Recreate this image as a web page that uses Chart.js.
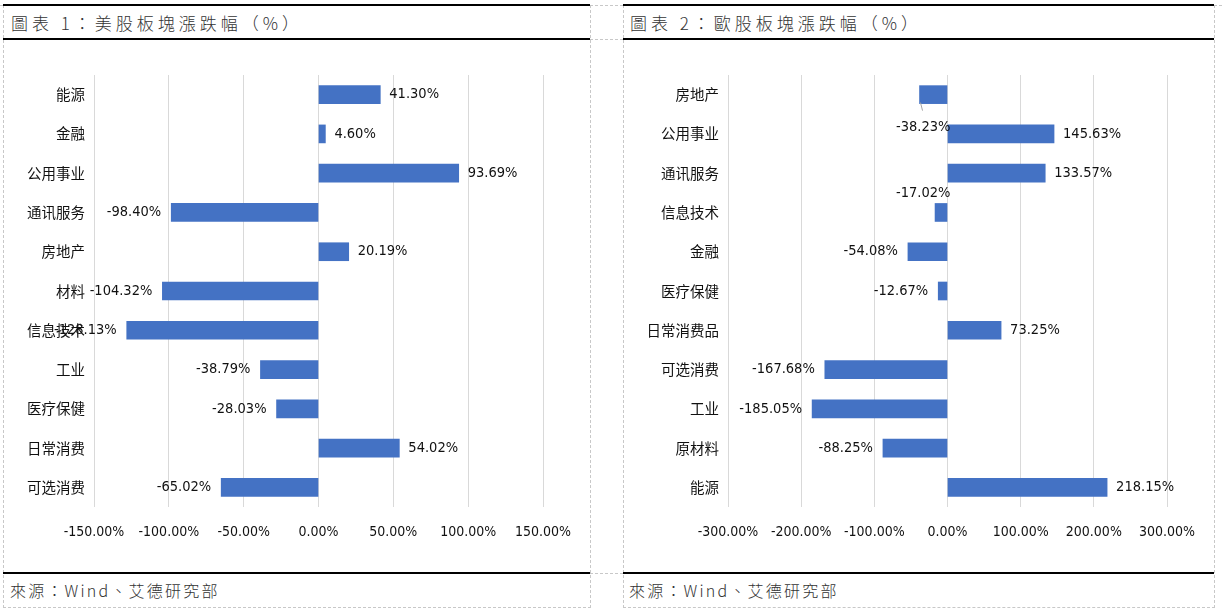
<!DOCTYPE html>
<html>
<head>
<meta charset="utf-8">
<script src="https://cdn.jsdelivr.net/npm/chart.js@4.4.1/dist/chart.umd.min.js"></script>
<style>
  html, body { margin: 0; padding: 0; background: #fff; }
  body { width: 1222px; height: 615px; position: relative; overflow: hidden; }
  .panel { position: absolute; top: 5px; height: 603px; box-sizing: border-box;
           border-left: 1px dashed #c8c8c8; border-right: 1px dashed #c8c8c8; border-bottom: 1px dashed #c8c8c8; }
  .hline { position: absolute; height: 2px; background: #000; }
  .dline { position: absolute; height: 0; border-top: 1px dashed #c8c8c8; }
  .title { position: absolute; font-family: "Noto Sans CJK TC", sans-serif; font-size: 17px; color: #333;
           letter-spacing: 4px; top: 10px; white-space: nowrap; font-weight: 300; }
  .src { position: absolute; font-family: "Noto Sans CJK TC", sans-serif; font-size: 16px; color: #333;
         letter-spacing: 2.2px; top: 578px; white-space: nowrap; font-weight: 300; }
  canvas { position: absolute; }
</style>
</head>
<body>
<div class="panel" style="left:3px; width:588px;"></div>
<div class="panel" style="left:623px; width:592px;"></div>
<div class="dline" style="left:590px; width:33px; top:5px;"></div>
<div class="dline" style="left:590px; width:33px; top:39px;"></div>
<div class="dline" style="left:590px; width:33px; top:573px;"></div>
<div class="dline" style="left:0px; width:3px; top:5px;"></div>
<div class="dline" style="left:1214px; width:8px; top:5px;"></div>

<div class="hline" style="left:3px; width:587px; top:4px;"></div>
<div class="hline" style="left:3px; width:587px; top:38px;"></div>
<div class="hline" style="left:3px; width:587px; top:572px;"></div>
<div class="hline" style="left:623px; width:591px; top:4px;"></div>
<div class="hline" style="left:623px; width:591px; top:38px;"></div>
<div class="hline" style="left:623px; width:591px; top:572px;"></div>

<div class="title" style="left:11px;">圖表 1：美股板塊漲跌幅（%）</div>
<div class="title" style="left:630px;">圖表 2：歐股板塊漲跌幅（%）</div>
<div class="src" style="left:10px;">來源：Wind、艾德研究部</div>
<div class="src" style="left:629px;">來源：Wind、艾德研究部</div>

<canvas id="c1" width="587" height="533" style="left:3px; top:40px; width:587px; height:533px;"></canvas>
<canvas id="c2" width="591" height="533" style="left:623px; top:40px; width:591px; height:533px;"></canvas>

<script>
// ---- Data ----
const usCategories = ["能源", "金融", "公用事业", "通讯服务", "房地产", "材料", "信息技术", "工业", "医疗保健", "日常消费", "可选消费"];
const usValues = [41.30, 4.60, 93.69, -98.40, 20.19, -104.32, -128.13, -38.79, -28.03, 54.02, -65.02];
const usTicks = [-150, -100, -50, 0, 50, 100, 150];

const euCategories = ["房地产", "公用事业", "通讯服务", "信息技术", "金融", "医疗保健", "日常消费品", "可选消费", "工业", "原材料", "能源"];
const euValues = [-38.23, 145.63, 133.57, -17.02, -54.08, -12.67, 73.25, -167.68, -185.05, -88.25, 218.15];
const euTicks = [-300, -200, -100, 0, 100, 200, 300];

// label placement overrides (Excel moved two labels in the European chart)
const euLabelMoves = { "房地产": "below", "信息技术": "above" };

const NUM_FONT = '"DejaVu Sans Condensed", "Liberation Sans Narrow", sans-serif';
const CAT_FONT = '"Noto Sans CJK SC", sans-serif';

function pct(v) { return v.toFixed(2) + "%"; }

const labelPlugin = {
  id: 'valLabels',
  afterDatasetsDraw(chart, args, opts) {
    const ctx = chart.ctx;
    const meta = chart.getDatasetMeta(0);
    const data = chart.data.datasets[0].data;
    const cats = chart.data.labels;
    const moves = opts.moves || {};
    ctx.save();
    ctx.font = '14.5px ' + NUM_FONT;
    ctx.fillStyle = '#111';
    ctx.textBaseline = 'middle';
    meta.data.forEach((bar, i) => {
      const v = data[i];
      const txt = pct(v);
      const mv = moves[cats[i]];
      if (mv === 'below' || mv === 'above') {
        const zeroX = chart.scales.x.getPixelForValue(0);
        const dy = mv === 'below' ? 33 : -19;
        ctx.textAlign = 'right';
        ctx.fillText(txt, zeroX + 3, bar.y + dy);
        if (mv === 'below') {
          ctx.strokeStyle = '#a6a6a6';
          ctx.lineWidth = 1;
          ctx.beginPath();
          ctx.moveTo(bar.x + 1, bar.y + 8);
          ctx.lineTo(bar.x + 3, bar.y + 16);
          ctx.stroke();
        }
      } else if (v >= 0) {
        ctx.textAlign = 'left';
        ctx.fillText(txt, bar.x + 9, bar.y);
      } else {
        ctx.textAlign = 'right';
        ctx.fillText(txt, bar.x - 10, bar.y);
      }
    });
    ctx.restore();
  }
};

function makeChart(id, cats, vals, ticks, yWidth, padRight, moves) {
  const mn = ticks[0], mx = ticks[ticks.length - 1];
  return new Chart(document.getElementById(id), {
    type: 'bar',
    data: {
      labels: cats,
      datasets: [{ data: vals, backgroundColor: '#4472C4', barThickness: 18 }]
    },
    plugins: [labelPlugin],
    options: {
      indexAxis: 'y',
      responsive: false,
      animation: false,
      layout: { padding: { left: 0, right: padRight, top: 35, bottom: 0 } },
      plugins: { legend: { display: false }, tooltip: { enabled: false }, valLabels: { moves: moves } },
      scales: {
        x: {
          min: mn, max: mx,
          afterBuildTicks(s) { s.ticks = ticks.map(v => ({ value: v })); },
          afterFit(s) { s.height = 66; },
          grid: { color: '#d9d9d9', lineWidth: 1, drawTicks: false },
          border: { display: false },
          ticks: { padding: 17, color: '#111', font: { family: NUM_FONT, size: 14 },
                   maxRotation: 0, minRotation: 0, autoSkip: false,
                   callback: v => pct(v) }
        },
        y: {
          afterFit(s) { s.width = yWidth; },
          grid: { display: false, drawTicks: false },
          border: { display: false },
          ticks: { padding: 9, color: '#111', font: { family: CAT_FONT, size: 14.5 } }
        }
      }
    }
  });
}

makeChart('c1', usCategories, usValues, usTicks, 91, 47, {});
makeChart('c2', euCategories, euValues, euTicks, 105, 47, euLabelMoves);
</script>
</body>
</html>
